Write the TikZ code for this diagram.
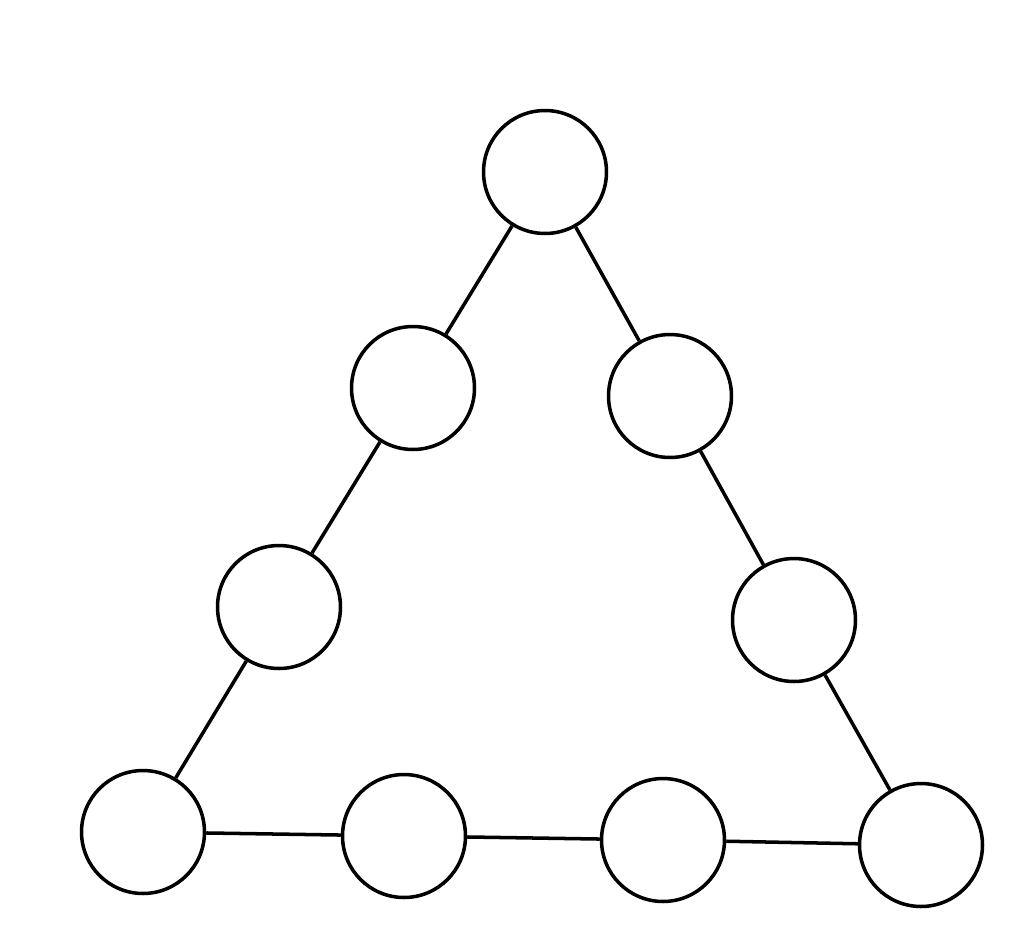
\documentclass[tikz,border=0pt]{standalone}
\usepackage{tikz}

\begin{document}
\begin{tikzpicture}[x=0.02cm,y=-0.02cm,line width=2pt,
    spot/.style={draw,circle,inner sep=0pt,minimum size=2.46cm}]
    \useasboundingbox (0,0) rectangle (1024,937);
    \node[spot] (a) at (545, 172) {};
    \node[spot] (b) at (413, 388) {};
    \node[spot] (c) at (279, 607) {};
    \node[spot] (d) at (143, 832) {};
    \node[spot] (e) at (404, 836) {};
    \node[spot] (f) at (663, 840) {};
    \node[spot] (g) at (921, 845) {};
    \node[spot] (h) at (794, 620) {};
    \node[spot] (i) at (670, 396) {};
    \draw (a) to (b);
    \draw (b) to (c);
    \draw (c) to (d);
    \draw (d) to (e);
    \draw (e) to (f);
    \draw (f) to (g);
    \draw (g) to (h);
    \draw (h) to (i);
    \draw (i) to (a);
  \end{tikzpicture}
\end{document}
